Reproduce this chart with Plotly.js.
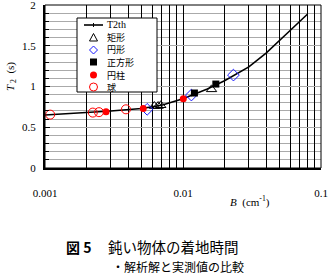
<!DOCTYPE html>
<html><head><meta charset="utf-8">
<script src="https://cdn.plot.ly/plotly-3.0.1.min.js"></script>
<style>html,body{margin:0;padding:0;background:#fff}#c{width:328px;height:275px}</style>
</head><body><div id="c"></div>
<script>
// theoretical curve T2th
const thB = [0.001,0.002,0.003,0.005,0.007,0.01,0.015,0.02,0.03,0.04,0.05,0.06,0.08];
const thT = [0.65,0.68,0.70,0.73,0.77,0.85,0.97,1.07,1.24,1.41,1.56,1.69,1.89];
// 矩形 (rectangular plate)
const rectB = [0.0062,0.0066,0.0069,0.0161];
const rectT = [0.76,0.76,0.77,0.965];
// 円形 (disc)
const discB = [0.0055,0.0115,0.0232];
const discT = [0.72,0.895,1.14];
// 正方形 (square)
const sqB = [0.0121,0.0173];
const sqT = [0.92,1.03];
// 円柱 (cylinder)
const cylB = [0.00277,0.00515,0.01005];
const cylT = [0.69,0.73,0.85];
// 球 (sphere)
const sphB = [0.00109,0.00222,0.00246,0.00386];
const sphT = [0.655,0.68,0.685,0.72];
// x tick positions / labels
const xTickVals = [];
const xTickText = [];
[0.001,0.01].forEach(d=>{for(let k=1;k<=9;k++){xTickVals.push(d*k);xTickText.push(k===1?String(d):' ');}});
xTickVals.push(0.1); xTickText.push('0.1');
// y tick labels
const yTickVals = [0,0.5,1,1.5,2];
const yTickText = ['0','0.5','1','1.5','2'];
const legendNames = ['T2th','矩形','円形','正方形','円柱','球'];

const serif = 'Liberation Serif, Times New Roman, serif';
const cjk = 'Noto Sans CJK JP, sans-serif';

const traces = [
  {x:thB,y:thT,mode:'lines',line:{color:'#000',width:1.6},name:legendNames[0],cliponaxis:false},
  {x:rectB,y:rectT,mode:'markers',marker:{symbol:'triangle-up-open',size:9,color:'#000',line:{width:1,color:'#000'}},name:legendNames[1],cliponaxis:false},
  {x:discB,y:discT,mode:'markers',marker:{symbol:'diamond-open',size:9,color:'#1a1aff',line:{width:1,color:'#1a1aff'}},name:legendNames[2],cliponaxis:false},
  {x:sqB,y:sqT,mode:'markers',marker:{symbol:'square',size:7,color:'#000'},name:legendNames[3],cliponaxis:false},
  {x:cylB,y:cylT,mode:'markers',marker:{symbol:'circle',size:7,color:'#ff0000'},name:legendNames[4],cliponaxis:false},
  {x:sphB,y:sphT,mode:'markers',marker:{symbol:'circle-open',size:9,color:'#ff0000',line:{width:1,color:'#ff0000'}},name:legendNames[5],cliponaxis:false}
];

// pixel -> paper helpers (plot area 45..321 x 5..168)
const L=45,R=321,T=5,B=168;
const px=v=>(v-L)/(R-L), py=v=>(B-v)/(B-T);

const shapes = [
  {type:'rect',xref:'paper',yref:'paper',x0:0,x1:1,y0:0,y1:1,line:{color:'#000',width:1},layer:'above'},
  // legend box
  {type:'rect',xref:'paper',yref:'paper',x0:px(77),x1:px(157),y0:py(92),y1:py(18),fillcolor:'#fff',line:{color:'#000',width:1},layer:'above'},
  // legend line
  {type:'line',xref:'paper',yref:'paper',x0:px(84),x1:px(103),y0:py(25),y1:py(25),line:{color:'#000',width:1.6},layer:'above'},
  {type:'line',xref:'paper',yref:'paper',x0:px(93.5),x1:px(93.5),y0:py(23),y1:py(27),line:{color:'#000',width:1},layer:'above'},
  // triangle
  {type:'path',xref:'paper',yref:'paper',path:`M ${px(93.5)} ${py(33.5)} L ${px(97.5)} ${py(41)} L ${px(89.5)} ${py(41)} Z`,line:{color:'#000',width:1},fillcolor:'rgba(0,0,0,0)',layer:'above'},
  // diamond
  {type:'path',xref:'paper',yref:'paper',path:`M ${px(93.5)} ${py(46)} L ${px(97.5)} ${py(50)} L ${px(93.5)} ${py(54)} L ${px(89.5)} ${py(50)} Z`,line:{color:'#1a1aff',width:1},fillcolor:'rgba(0,0,0,0)',layer:'above'},
  // square
  {type:'rect',xref:'paper',yref:'paper',x0:px(90),x1:px(97),y0:py(65.5),y1:py(58.5),fillcolor:'#000',line:{color:'#000',width:0},layer:'above'},
  // filled circle
  {type:'circle',xref:'paper',yref:'paper',x0:px(90),x1:px(97),y0:py(78.5),y1:py(71.5),fillcolor:'#ff0000',line:{color:'#ff0000',width:0},layer:'above'},
  // open circle
  {type:'circle',xref:'paper',yref:'paper',x0:px(89.5),x1:px(97.5),y0:py(91),y1:py(83),fillcolor:'rgba(0,0,0,0)',line:{color:'#ff0000',width:1},layer:'above'}
];

const legY=[25,37.5,50,62,75,87];
const annotations = legendNames.map((n,i)=>({xref:'paper',yref:'paper',x:px(105),y:py(legY[i]),xanchor:'left',yanchor:'middle',showarrow:false,text:n,font:{family:i===0?serif:cjk,size:i===0?10:9,color:'#000'}}));
annotations.push(
  {xref:'paper',yref:'paper',x:px(11),y:py(77),textangle:-90,showarrow:false,xanchor:'center',yanchor:'middle',text:'<i>T</i><sub> 2</sub>  (s)',font:{family:serif,size:11,color:'#000'}},
  {xref:'paper',yref:'paper',x:px(250),y:py(201),showarrow:false,xanchor:'center',yanchor:'middle',text:'<i>B</i>  (cm<sup>-1</sup>)',font:{family:serif,size:11,color:'#000'}},
  {xref:'paper',yref:'paper',x:px(64),y:py(247),showarrow:false,xanchor:'left',yanchor:'middle',text:'<b>図 5</b>',font:{family:cjk,size:14,color:'#000'}},
  {xref:'paper',yref:'paper',x:px(106),y:py(247),showarrow:false,xanchor:'left',yanchor:'middle',text:'鈍い物体の着地時間',font:{family:cjk,size:14.5,color:'#000'}},
  {xref:'paper',yref:'paper',x:px(110),y:py(266.5),showarrow:false,xanchor:'left',yanchor:'middle',text:'・解析解と実測値の比較',font:{family:cjk,size:12,color:'#000'}}
);

const layout = {
  width:328,height:275,
  margin:{l:45,r:7,t:5,b:107,pad:0},
  paper_bgcolor:'#fff',plot_bgcolor:'#fff',
  showlegend:false,
  xaxis:{type:'log',range:[-3,-1],tickmode:'array',tickvals:xTickVals,ticktext:xTickText,tickangle:0,
    showgrid:true,gridcolor:'#000',gridwidth:1,showline:true,linecolor:'#000',linewidth:2,
    ticks:'',ticklabelstandoff:14,zeroline:false,
    tickfont:{family:serif,size:11,color:'#000'}},
  yaxis:{range:[0,2],tickmode:'array',tickvals:yTickVals,ticktext:yTickText,showgrid:true,gridcolor:'#aaa',gridwidth:1,
    showline:true,linecolor:'#000',linewidth:2,ticks:'inside',ticklen:5,tickcolor:'#000',tickwidth:1,
    zeroline:false,ticklabeloverflow:'allow',ticklabelstandoff:5,tickfont:{family:serif,size:11,color:'#000'},
    minor:{dtick:0.1,tick0:0,ticks:'inside',ticklen:4,tickcolor:'#000',showgrid:true,gridcolor:'#aaa',gridwidth:1}},
  shapes:shapes,
  annotations:annotations
};
Plotly.newPlot('c',traces,layout,{staticPlot:true,displayModeBar:false});
</script></body></html>
